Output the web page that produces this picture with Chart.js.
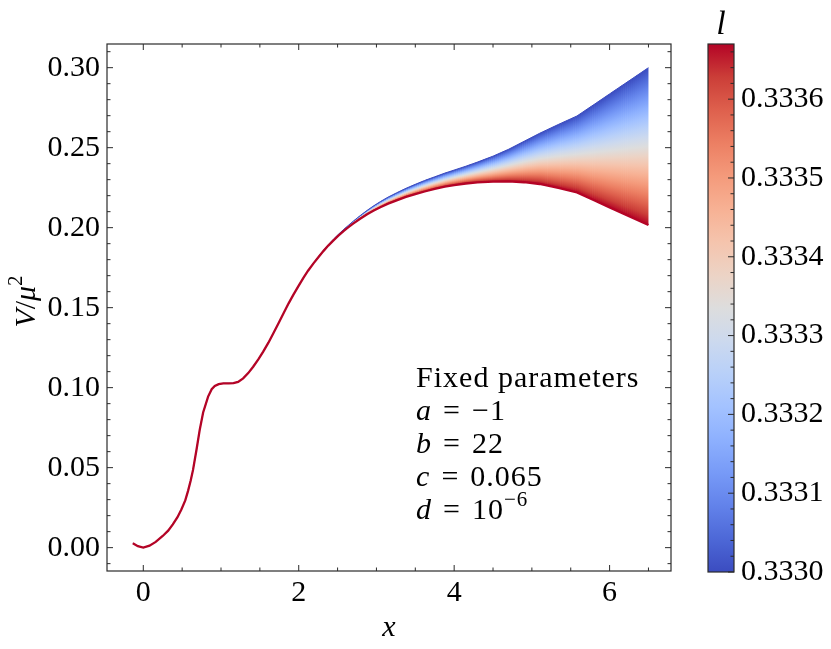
<!DOCTYPE html>
<html>
<head>
<meta charset="utf-8">
<script src="https://cdn.jsdelivr.net/npm/chart.js@4.4.1/dist/chart.umd.min.js"></script>
<style>
body { margin: 0; background: #fff; }
#wrap { position: relative; width: 831px; height: 649px; }
canvas { position: absolute; top: 0; }
#main { left: 0; }
#cbar { left: 690px; }
</style>
</head>
<body>
<div id="wrap">
  <canvas id="main" width="690" height="649"></canvas>
  <canvas id="cbar" width="141" height="649"></canvas>
</div>
<script>
// x grid shared by the whole family of curves
const xs = [-0.135, -0.07, 0, 0.08, 0.16, 0.25, 0.32, 0.38, 0.44, 0.49,
  0.54, 0.576, 0.61, 0.64, 0.684, 0.726, 0.77, 0.834, 0.88, 0.92,
  0.97, 1.03, 1.1, 1.16, 1.22, 1.285, 1.35, 1.414, 1.48, 1.543,
  1.61, 1.672, 1.74, 1.80, 1.87, 1.93, 2.0, 2.06, 2.12, 2.19,
  2.25, 2.32, 2.38, 2.45, 2.51, 2.58, 2.64, 2.70, 2.79, 2.88,
  2.96, 3.05, 3.15, 3.26, 3.38, 3.5, 3.62, 3.75, 3.88, 4.0,
  4.15, 4.3, 4.5, 4.7, 4.9, 5.1, 5.34, 5.58, 5.8, 6.0,
  6.25, 6.5];

// V/mu^2 for l = 0.3330 (upper edge of the band, blue)
const vLow = [0.0027, 0.0009, 0.0000, 0.0012, 0.0036, 0.0073, 0.0106, 0.0145, 0.0190, 0.0238,
  0.0295, 0.0355, 0.0420, 0.0486, 0.0610, 0.0736, 0.0845, 0.0944, 0.0990, 0.1010,
  0.1022, 0.1027, 0.1027, 0.1028, 0.1036, 0.1058, 0.1091, 0.1131, 0.1177, 0.1225,
  0.1281, 0.1338, 0.1402, 0.1460, 0.1527, 0.1580, 0.1638, 0.1686, 0.1731, 0.1779,
  0.1817, 0.1859, 0.1893, 0.1929, 0.1958, 0.1990, 0.2015, 0.2040, 0.2075, 0.2108,
  0.2135, 0.2163, 0.2191, 0.2218, 0.2246, 0.2271, 0.2295, 0.2318, 0.2341, 0.2360,
  0.2384, 0.2410, 0.2447, 0.2490, 0.2540, 0.2590, 0.2645, 0.2698, 0.2770, 0.2836,
  0.2918, 0.3000];

// V/mu^2 for l = 0.33367 (lower edge of the band, red)
const vHigh = [0.0027, 0.0009, 0.0000, 0.0012, 0.0036, 0.0073, 0.0106, 0.0145, 0.0190, 0.0238,
  0.0295, 0.0355, 0.0420, 0.0486, 0.0610, 0.0736, 0.0845, 0.0944, 0.0990, 0.1010,
  0.1022, 0.1027, 0.1027, 0.1028, 0.1036, 0.1058, 0.1091, 0.1131, 0.1177, 0.1225,
  0.1281, 0.1338, 0.1402, 0.1460, 0.1527, 0.1580, 0.1638, 0.1686, 0.1731, 0.1777,
  0.1814, 0.1855, 0.1888, 0.1922, 0.1950, 0.1980, 0.2003, 0.2025, 0.2056, 0.2084,
  0.2106, 0.2128, 0.2150, 0.2171, 0.2192, 0.2210, 0.2226, 0.2242, 0.2256, 0.2266,
  0.2276, 0.2283, 0.2288, 0.2289, 0.2284, 0.2273, 0.2248, 0.2220, 0.2171, 0.2127,
  0.2072, 0.2017];

const lMin = 0.3330, lMax = 0.33367;
const xTicks = [0, 2, 4, 6];
const yTicks = [0, 0.05, 0.10, 0.15, 0.20, 0.25, 0.30];
const lTicks = [0.3330, 0.3331, 0.3332, 0.3333, 0.3334, 0.3335, 0.3336];

const SP = '\u2004';
const paramLines = [
  [['Fixed parameters', 'r']],
  [['a', 'i'], [SP + '=' + SP + '\u22121', 'r']],
  [['b', 'i'], [SP + '=' + SP + '22', 'r']],
  [['c', 'i'], [SP + '=' + SP + '0.065', 'r']],
  [['d', 'i'], [SP + '=' + SP + '10', 'r'], ['\u22126', 's']]
];

// coolwarm colormap stops
const coolwarm = [[59,76,192],[77,104,215],[98,130,234],[119,154,247],[141,176,254],
  [163,194,255],[184,208,249],[204,217,238],[221,221,221],[236,211,197],[245,196,173],
  [247,177,148],[244,154,123],[236,127,99],[222,96,77],[203,62,56],[180,4,38]];

const FONT = '"Liberation Serif", "Times New Roman", serif';
const tickFont = { family: FONT, size: 30 };

function addStops(g) {
  coolwarm.forEach((c, i) => g.addColorStop(i / (coolwarm.length - 1), 'rgb(' + c + ')'));
  return g;
}

function drawParts(ctx, x, y, parts, size) {
  let cx = x;
  for (const [t, s] of parts) {
    const fs = s === 's' ? size * 0.7 : size;
    ctx.font = (s === 'i' ? 'italic ' : '') + fs + 'px ' + FONT;
    ctx.fillText(t, cx, s === 's' ? y - size * 0.42 : y);
    cx += ctx.measureText(t).width;
  }
  return cx - x;
}

function partsWidth(ctx, parts, size) {
  let w = 0;
  for (const [t, s] of parts) {
    const fs = s === 's' ? size * 0.7 : size;
    ctx.font = (s === 'i' ? 'italic ' : '') + fs + 'px ' + FONT;
    w += ctx.measureText(t).width;
  }
  return w;
}

// shade the band between the l-min and l-max curves (colour follows l across the band)
const bandPlugin = {
  id: 'band',
  beforeDatasetsDraw(chart) {
    const { ctx, chartArea: a } = chart;
    const top = chart.getDatasetMeta(1).data, bot = chart.getDatasetMeta(0).data;
    ctx.save();
    ctx.beginPath();
    ctx.rect(a.left, a.top, a.right - a.left, a.bottom - a.top);
    ctx.clip();
    for (let j = 0; j < top.length - 1; j++) {
      const t0 = top[j], t1 = top[j + 1], b0 = bot[j], b1 = bot[j + 1];
      if (b0.y - t0.y < 0.2 && b1.y - t1.y < 0.2) continue;
      const w = t1.x - t0.x;
      const n = Math.max(1, Math.ceil(w / 2));
      for (let k = 0; k < n; k++) {
        const f0 = k / n, f1 = (k + 1) / n, fm = (f0 + f1) / 2;
        const g1 = f1 + ((j === top.length - 2 && k === n - 1) ? 0 : 0.7 / w);
        const ta = t0.y + (t1.y - t0.y) * f0, tb = t0.y + (t1.y - t0.y) * g1;
        const ba = b0.y + (b1.y - b0.y) * f0, bb = b0.y + (b1.y - b0.y) * g1;
        const tm = t0.y + (t1.y - t0.y) * fm;
        let bm = b0.y + (b1.y - b0.y) * fm;
        if (bm - tm < 1) bm = tm + 1;
        ctx.fillStyle = addStops(ctx.createLinearGradient(0, tm, 0, bm));
        ctx.beginPath();
        ctx.moveTo(t0.x + w * f0, ta);
        ctx.lineTo(t0.x + w * g1, tb);
        ctx.lineTo(t0.x + w * g1, bb);
        ctx.lineTo(t0.x + w * f0, ba);
        ctx.closePath();
        ctx.fill();
      }
    }
    ctx.restore();
  }
};

const mainDecor = {
  id: 'mainDecor',
  afterDraw(chart) {
    const { ctx, chartArea: a, scales: { x, y } } = chart;
    ctx.save();
    ctx.strokeStyle = '#2b2b2b';
    ctx.lineWidth = 1.2;
    ctx.strokeRect(a.left, a.top, a.right - a.left, a.bottom - a.top);
    ctx.lineWidth = 1;
    ctx.beginPath();
    for (let i = -1; i <= 14; i++) {
      const v = i * 0.5;
      if (v < x.min || v > x.max) continue;
      const px = x.getPixelForValue(v), len = i % 4 === 0 ? 6 : 3.5;
      ctx.moveTo(px, a.bottom); ctx.lineTo(px, a.bottom - len);
      ctx.moveTo(px, a.top); ctx.lineTo(px, a.top + len);
    }
    for (let i = -2; i <= 32; i++) {
      const v = i * 0.01;
      if (v < y.min || v > y.max) continue;
      const py = y.getPixelForValue(v), len = i % 5 === 0 ? 6 : 3.5;
      ctx.moveTo(a.left, py); ctx.lineTo(a.left + len, py);
      ctx.moveTo(a.right, py); ctx.lineTo(a.right - len, py);
    }
    ctx.stroke();

    ctx.fillStyle = '#000';
    ctx.textBaseline = 'alphabetic';
    // x label
    ctx.textAlign = 'center';
    ctx.font = 'italic 30px ' + FONT;
    ctx.fillText('x', (a.left + a.right) / 2, 636);
    // y label
    ctx.textAlign = 'left';
    const yl = [['V', 'i'], ['/', 'r'], ['\u03bc', 'i'], ['2', 's']];
    ctx.save();
    ctx.translate(35, (a.top + a.bottom) / 2 - 6);
    ctx.rotate(-Math.PI / 2);
    drawParts(ctx, -partsWidth(ctx, yl, 30) / 2, 0, yl, 30);
    ctx.restore();
    // parameter box
    ctx.letterSpacing = '1px';
    const ax = x.getPixelForValue(3.51), ay = y.getPixelForValue(0.1004);
    paramLines.forEach((ln, k) => drawParts(ctx, ax, ay + k * 33, ln, 30));
    ctx.restore();
  }
};

const cbarDecor = {
  id: 'cbarDecor',
  afterDraw(chart) {
    const { ctx, chartArea: a, scales: { y } } = chart;
    ctx.save();
    ctx.strokeStyle = '#2b2b2b';
    ctx.lineWidth = 1.2;
    ctx.strokeRect(a.left, a.top, a.right - a.left, a.bottom - a.top);
    ctx.lineWidth = 1;
    ctx.beginPath();
    for (let i = 0; i <= 33; i++) {
      const v = lMin + i * 0.00002;
      if (v > lMax + 1e-9) break;
      const py = y.getPixelForValue(v), len = i % 5 === 0 ? 6 : 3.5;
      ctx.moveTo(a.right, py); ctx.lineTo(a.right - len, py);
    }
    ctx.stroke();
    ctx.fillStyle = '#000';
    ctx.textAlign = 'center';
    ctx.font = 'italic 34px ' + FONT;
    ctx.fillText('l', (a.left + a.right) / 2, 34);
    ctx.restore();
  }
};

new Chart(document.getElementById('main'), {
  type: 'line',
  data: {
    datasets: [
      {
        label: 'l = ' + lMax,
        data: xs.map((x, i) => ({ x: x, y: vHigh[i] })),
        borderColor: 'rgb(180,4,38)',
        borderWidth: 2.3,
        pointRadius: 0,
        tension: 0,
        fill: false
      },
      {
        label: 'l = ' + lMin,
        data: xs.map((x, i) => ({ x: x, y: vLow[i] })),
        borderColor: 'rgb(59,76,192)',
        borderWidth: 1,
        pointRadius: 0,
        tension: 0,
        fill: false
      }
    ]
  },
  options: {
    responsive: false,
    animation: false,
    events: [],
    layout: { padding: { top: 44, right: 19, left: 0, bottom: 0 } },
    plugins: { legend: { display: false }, tooltip: { enabled: false } },
    scales: {
      x: {
        type: 'linear', min: -0.467, max: 6.79,
        grid: { display: false, drawTicks: false },
        border: { display: false },
        afterBuildTicks: s => { s.ticks = xTicks.map(v => ({ value: v })); },
        afterFit: s => { s.height = 78; },
        ticks: { font: tickFont, color: '#000', padding: 4, maxRotation: 0, callback: v => String(v) }
      },
      y: {
        type: 'linear', min: -0.0146, max: 0.3148,
        grid: { display: false, drawTicks: false },
        border: { display: false },
        afterBuildTicks: s => { s.ticks = yTicks.map(v => ({ value: v })); },
        afterFit: s => { s.width = 107; },
        ticks: { font: tickFont, color: '#000', padding: 7, callback: v => v.toFixed(2) }
      }
    }
  },
  plugins: [bandPlugin, mainDecor]
});

new Chart(document.getElementById('cbar'), {
  type: 'bar',
  data: {
    labels: ['l'],
    datasets: [{
      data: [[lMin, lMax]],
      backgroundColor: c => {
        const a = c.chart.chartArea;
        if (!a) return 'rgb(221,221,221)';
        return addStops(c.chart.ctx.createLinearGradient(0, a.bottom, 0, a.top));
      },
      barPercentage: 1,
      categoryPercentage: 1,
      borderWidth: 0
    }]
  },
  options: {
    responsive: false,
    animation: false,
    events: [],
    layout: { padding: { left: 18, top: 44, bottom: 77, right: 0 } },
    plugins: { legend: { display: false }, tooltip: { enabled: false } },
    scales: {
      x: { display: false },
      y: {
        position: 'right', min: lMin, max: lMax,
        grid: { display: false, drawTicks: false },
        border: { display: false },
        afterBuildTicks: s => { s.ticks = lTicks.map(v => ({ value: v })); },
        afterFit: s => { s.width = 97; },
        ticks: { font: tickFont, color: '#000', padding: 7, callback: v => v.toFixed(4) }
      }
    }
  },
  plugins: [cbarDecor]
});
</script>
</body>
</html>
